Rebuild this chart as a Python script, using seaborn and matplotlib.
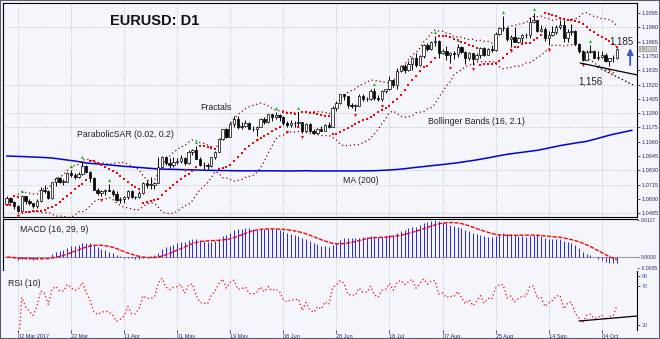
import numpy as np
import pandas as pd
import matplotlib
matplotlib.use("Agg")
import matplotlib.pyplot as plt
from matplotlib.patches import Rectangle
import seaborn as sns

# ---------------- data ----------------
open_prices = [
1.0560,1.0605,1.0575,1.0545,1.0505,1.0620,1.0585,1.0565,1.0545,1.0580,
1.0670,1.0660,1.0605,1.0735,1.0765,1.0740,1.0740,1.0810,1.0795,1.0780,
1.0800,1.0865,1.0815,1.0765,1.0675,1.0650,1.0665,1.0670,1.0665,1.0640,
1.0590,1.0600,1.0615,1.0665,1.0615,1.0615,1.0645,1.0730,1.0715,1.0715,
1.0725,1.0855,1.0935,1.0885,1.0870,1.0895,1.0905,1.0930,1.0885,1.0980,
1.0995,1.0925,1.0875,1.0870,1.0865,1.0935,1.0980,1.1080,1.1160,1.1100,
1.1205,1.1245,1.1180,1.1185,1.1210,1.1165,1.1160,1.1180,1.1245,1.1215,
1.1280,1.1255,1.1275,1.1260,1.1210,1.1195,1.1210,1.1210,1.1215,1.1150,
1.1200,1.1150,1.1130,1.1165,1.1150,1.1195,1.1180,1.1335,1.1375,1.1440,
1.1425,1.1355,1.1350,1.1350,1.1425,1.1400,1.1400,1.1465,1.1415,1.1400,
1.1470,1.1480,1.1555,1.1515,1.1630,1.1665,1.1640,1.1685,1.1730,1.1675,
1.1750,1.1840,1.1805,1.1860,1.1870,1.1775,1.1790,1.1755,1.1770,1.1765,
1.1820,1.1780,1.1735,1.1770,1.1725,1.1760,1.1815,1.1760,1.1805,1.1800,
1.1925,1.1975,1.1975,1.1885,1.1905,1.1860,1.1890,1.1915,1.1915,1.2025,
1.2035,1.1950,1.1965,1.1890,1.1920,1.1945,1.1985,1.1995,1.1890,1.1940,
1.1950,1.1845,1.1790,1.1720,1.1780,1.1790,1.1735,1.1745,1.1760,1.1710,
1.1730,1.1735]
high_prices = [
1.0620,1.0615,1.0580,1.0555,1.0630,1.0625,1.0600,1.0570,1.0600,1.0700,
1.0715,1.0675,1.0740,1.0775,1.0780,1.0760,1.0820,1.0830,1.0805,1.0820,
1.0905,1.0875,1.0825,1.0775,1.0690,1.0675,1.0680,1.0720,1.0680,1.0665,
1.0615,1.0625,1.0675,1.0675,1.0625,1.0660,1.0735,1.0750,1.0775,1.0740,
1.0935,1.0945,1.0945,1.0930,1.0935,1.0930,1.0950,1.0935,1.0990,1.1000,
1.1025,1.0935,1.0900,1.0890,1.0935,1.0985,1.1090,1.1165,1.1170,1.1215,
1.1265,1.1265,1.1220,1.1235,1.1220,1.1185,1.1190,1.1250,1.1255,1.1285,
1.1285,1.1295,1.1280,1.1265,1.1230,1.1235,1.1225,1.1295,1.1220,1.1210,
1.1210,1.1165,1.1170,1.1185,1.1200,1.1215,1.1350,1.1390,1.1445,1.1445,
1.1430,1.1370,1.1365,1.1440,1.1440,1.1420,1.1480,1.1490,1.1435,1.1475,
1.1485,1.1585,1.1560,1.1655,1.1680,1.1685,1.1710,1.1740,1.1775,1.1760,
1.1845,1.1850,1.1870,1.1910,1.1880,1.1805,1.1830,1.1780,1.1790,1.1845,
1.1830,1.1790,1.1780,1.1775,1.1775,1.1825,1.1825,1.1815,1.1835,1.1940,
1.1985,1.2070,1.1980,1.1915,1.1980,1.1905,1.1925,1.1935,1.2060,1.2092,
1.2040,1.1995,1.1980,1.1950,1.1990,1.1995,1.2035,1.2035,1.1965,1.2005,
1.1955,1.1850,1.1795,1.1800,1.1835,1.1800,1.1790,1.1790,1.1770,1.1730,
1.1760,1.1815]
low_prices = [
1.0555,1.0565,1.0520,1.0495,1.0500,1.0560,1.0550,1.0525,1.0525,1.0575,
1.0645,1.0600,1.0600,1.0705,1.0725,1.0715,1.0735,1.0780,1.0760,1.0765,
1.0790,1.0805,1.0740,1.0670,1.0630,1.0625,1.0630,1.0660,1.0625,1.0580,
1.0570,1.0570,1.0600,1.0605,1.0600,1.0605,1.0640,1.0690,1.0680,1.0680,
1.0725,1.0850,1.0870,1.0850,1.0860,1.0880,1.0890,1.0870,1.0880,1.0955,
1.0925,1.0865,1.0840,1.0840,1.0860,1.0925,1.0975,1.1075,1.1090,1.1100,
1.1180,1.1165,1.1165,1.1180,1.1160,1.1150,1.1110,1.1175,1.1200,1.1210,
1.1230,1.1245,1.1225,1.1195,1.1175,1.1180,1.1180,1.1190,1.1130,1.1135,
1.1140,1.1120,1.1120,1.1145,1.1145,1.1170,1.1175,1.1310,1.1365,1.1395,
1.1335,1.1330,1.1310,1.1345,1.1390,1.1385,1.1395,1.1395,1.1390,1.1385,
1.1450,1.1475,1.1500,1.1480,1.1620,1.1615,1.1630,1.1640,1.1660,1.1665,
1.1735,1.1790,1.1795,1.1830,1.1730,1.1765,1.1715,1.1690,1.1725,1.1745,
1.1775,1.1685,1.1720,1.1680,1.1715,1.1730,1.1750,1.1755,1.1785,1.1790,
1.1920,1.1950,1.1870,1.1825,1.1860,1.1850,1.1855,1.1895,1.1895,1.2015,
1.1945,1.1940,1.1870,1.1835,1.1910,1.1930,1.1965,1.1865,1.1860,1.1920,
1.1840,1.1770,1.1710,1.1715,1.1770,1.1730,1.1715,1.1730,1.1700,1.1670,
1.1705,1.1725]
close_prices = [
1.0605,1.0575,1.0545,1.0505,1.0620,1.0585,1.0565,1.0545,1.0580,1.0670,
1.0660,1.0605,1.0735,1.0765,1.0740,1.0740,1.0810,1.0795,1.0780,1.0800,
1.0865,1.0815,1.0765,1.0675,1.0650,1.0665,1.0670,1.0665,1.0640,1.0590,
1.0600,1.0615,1.0665,1.0615,1.0615,1.0645,1.0730,1.0715,1.0715,1.0725,
1.0855,1.0935,1.0885,1.0870,1.0895,1.0905,1.0930,1.0885,1.0980,1.0995,
1.0925,1.0875,1.0870,1.0865,1.0935,1.0980,1.1080,1.1160,1.1100,1.1205,
1.1245,1.1180,1.1185,1.1210,1.1165,1.1160,1.1180,1.1245,1.1215,1.1280,
1.1255,1.1275,1.1260,1.1210,1.1195,1.1210,1.1210,1.1215,1.1150,1.1200,
1.1150,1.1130,1.1165,1.1150,1.1195,1.1180,1.1335,1.1375,1.1440,1.1425,
1.1355,1.1350,1.1350,1.1425,1.1400,1.1400,1.1465,1.1415,1.1400,1.1470,
1.1480,1.1555,1.1515,1.1630,1.1665,1.1640,1.1685,1.1730,1.1675,1.1750,
1.1840,1.1805,1.1860,1.1870,1.1775,1.1790,1.1755,1.1770,1.1765,1.1820,
1.1780,1.1735,1.1770,1.1725,1.1760,1.1815,1.1760,1.1805,1.1800,1.1925,
1.1975,1.1975,1.1885,1.1905,1.1860,1.1890,1.1915,1.1915,1.2025,1.2035,
1.1950,1.1965,1.1890,1.1920,1.1945,1.1985,1.1995,1.1890,1.1940,1.1950,
1.1845,1.1790,1.1720,1.1780,1.1790,1.1735,1.1745,1.1760,1.1710,1.1730,
1.1735,1.1805]
ma200_values = [
1.0945,1.0944,1.0943,1.0942,1.0941,1.0940,1.0938,1.0937,1.0936,1.0934,
1.0933,1.0931,1.0929,1.0925,1.0921,1.0917,1.0913,1.0909,1.0905,1.0900,
1.0895,1.0889,1.0886,1.0884,1.0881,1.0879,1.0876,1.0874,1.0871,1.0868,
1.0865,1.0862,1.0860,1.0858,1.0855,1.0853,1.0851,1.0848,1.0846,1.0843,
1.0841,1.0840,1.0839,1.0839,1.0838,1.0837,1.0836,1.0835,1.0835,1.0834,
1.0833,1.0832,1.0831,1.0830,1.0830,1.0829,1.0829,1.0828,1.0828,1.0827,
1.0827,1.0826,1.0826,1.0826,1.0826,1.0826,1.0826,1.0826,1.0826,1.0826,
1.0826,1.0826,1.0825,1.0825,1.0825,1.0825,1.0825,1.0826,1.0826,1.0827,
1.0826,1.0825,1.0825,1.0825,1.0825,1.0825,1.0825,1.0825,1.0825,1.0825,
1.0825,1.0825,1.0825,1.0825,1.0826,1.0826,1.0826,1.0827,1.0828,1.0830,
1.0831,1.0833,1.0835,1.0837,1.0840,1.0843,1.0847,1.0850,1.0854,1.0857,
1.0860,1.0864,1.0867,1.0870,1.0873,1.0877,1.0880,1.0884,1.0887,1.0891,
1.0896,1.0900,1.0905,1.0909,1.0914,1.0919,1.0925,1.0930,1.0936,1.0942,
1.0948,1.0953,1.0959,1.0963,1.0967,1.0971,1.0975,1.0979,1.0983,1.0987,
1.0991,1.0997,1.1003,1.1010,1.1016,1.1022,1.1029,1.1034,1.1039,1.1044,
1.1049,1.1054,1.1058,1.1063,1.1071,1.1079,1.1087,1.1096,1.1104,1.1112,
1.1120,1.1126,1.1133,1.1139,1.1146,1.1152]

date_tick_bars = [3, 17, 31, 45, 59, 73, 87, 101, 115, 129, 143, 157]
date_tick_labels = ["02 Mar 2017", "22 Mar", "11 Apr", "01 May", "19 May", "08 Jun",
                    "28 Jun", "18 Jul", "07 Aug", "25 Aug", "14 Sep", "04 Oct"]
price_ticks = [1.2095, 1.1980, 1.1865, 1.1750, 1.1635, 1.1520, 1.1405, 1.1290,
               1.1175, 1.1060, 1.0945, 1.0830, 1.0715, 1.0600, 1.0485]
price_grid = [1.1980, 1.1520, 1.1290, 1.1175, 1.0830, 1.0715, 1.0485]
rsi_ticks = [30, 70, 80]

# annotation geometry (drawn objects on the chart)
support_line = ([151.3, 166.3], [1.1693, 1.1597])
support_dotted = ([155.8, 165.3], [1.1661, 1.1516])
rsi_support = ([151.0, 166.3], [34.2, 39.3])
arrow_bar, arrow_from, arrow_to = 164.5, 1.1653, 1.1835

n = len(close_prices)
for nm, arr in [("open", open_prices), ("high", high_prices), ("low", low_prices)]:
    assert len(arr) == n, (nm, len(arr), n)

o = np.array(open_prices); h = np.array(high_prices)
l = np.array(low_prices); c = np.array(close_prices)
x = np.arange(n)
s = pd.Series(c)

# indicators
mid = s.rolling(16, min_periods=4).mean()
sd = s.rolling(16, min_periods=4).std(ddof=0)
bb_up = mid + 2.1 * sd
bb_lo = mid - 2.1 * sd

def psar(hi, lo, step=0.02, amax=0.2):
    out = np.zeros(len(hi)); up = True; ep = hi[0]; af = step; out[0] = lo[0]
    for i in range(1, len(hi)):
        v = out[i-1] + af * (ep - out[i-1])
        if up:
            v = min(v, lo[i-1], lo[max(i-2, 0)])
            if lo[i] < v:
                up = False; v = ep; ep = lo[i]; af = step
            elif hi[i] > ep:
                ep = hi[i]; af = min(af + step, amax)
        else:
            v = max(v, hi[i-1], hi[max(i-2, 0)])
            if hi[i] > v:
                up = True; v = ep; ep = hi[i]; af = step
            elif lo[i] < ep:
                ep = lo[i]; af = min(af + step, amax)
        out[i] = v
    return out

sar = psar(h, l)
frac_up = [i for i in range(2, n-2) if h[i] > max(h[i-2], h[i-1], h[i+1], h[i+2])]
frac_dn = [i for i in range(2, n-2) if l[i] < min(l[i-2], l[i-1], l[i+1], l[i+2])]

ema_f = s.ewm(span=16, adjust=False).mean()
ema_s = s.ewm(span=29, adjust=False).mean()
macd = (ema_f - ema_s).values
signal = pd.Series(macd).rolling(9, min_periods=1).mean().values

d = s.diff()
ag = d.clip(lower=0).ewm(alpha=0.1, adjust=True, min_periods=3).mean()
al = (-d.clip(upper=0)).ewm(alpha=0.1, adjust=True, min_periods=3).mean()
rsi = (100 - 100 / (1 + ag / al)).values

# ---------------- figure ----------------
sns.set_theme(style="white")
plt.rcParams["font.family"] = ["Liberation Sans", "DejaVu Sans"]
BG = "#F5F6FC"
W, H = 660, 339
fig = plt.figure(figsize=(6.6, 3.39), dpi=100)
fig.patch.set_facecolor(BG)

def rect(x0, y0, x1, y1):
    return [x0 / W, 1 - y1 / H, (x1 - x0) / W, (y1 - y0) / H]

ax = fig.add_axes(rect(3, 3, 637, 217))
axm = fig.add_axes(rect(3, 219, 637, 270), sharex=ax)
axr = fig.add_axes(rect(3, 271, 637, 330), sharex=ax)
for a in (ax, axm, axr):
    a.set_facecolor(BG)
    for xb in date_tick_bars:
        a.axvline(xb, color="#B8B8C0", lw=0.6, ls=(0, (1, 1.5)), zorder=0)

ax.set_xlim(-0.95, 166.3)
ax.set_ylim(1.04548, 1.21754)
for g in price_grid:
    ax.axhline(g, color="#B8B8C0", lw=0.6, ls=(0, (1, 1.5)), zorder=0)

# MA(200)
sns.lineplot(x=np.arange(len(ma200_values)), y=ma200_values, ax=ax, color="#0000E0",
             lw=1.1, zorder=2)
# Bollinger
ax.plot(x, bb_up, color="#8B0000", lw=0.9, ls=(0, (1, 2.2)), zorder=2)
ax.plot(x, bb_lo, color="#8B0000", lw=0.9, ls=(0, (1, 2.2)), zorder=2)
# candles
ax.vlines(x, l, h, color="black", lw=0.7, zorder=3)
body_b = np.minimum(o, c)
body_h = np.maximum(np.abs(c - o), 0.0002)
ax.bar(x, body_h, bottom=body_b, width=0.62,
       color=np.where(c >= o, "white", "black"), edgecolor="black", linewidth=0.5, zorder=4)
# Parabolic SAR
sns.scatterplot(x=x, y=sar, ax=ax, marker="s", s=2.0, color="#FF0000", linewidth=0, zorder=5)
# Fractals
sns.scatterplot(x=frac_up, y=h[frac_up] + 0.0035, ax=ax, marker="^", s=5,
                color="#00D000", linewidth=0, zorder=5)
sns.scatterplot(x=frac_dn, y=l[frac_dn] - 0.0035, ax=ax, marker="v", s=5,
                color="#FF0000", linewidth=0, zorder=5)
# trend lines & arrow
ax.plot(*support_line, color="black", lw=0.9, zorder=5)
ax.plot(*support_dotted, color="black", lw=0.8, ls=(0, (1.5, 2)), zorder=5)
ax.annotate("", xy=(arrow_bar, arrow_to), xytext=(arrow_bar, arrow_from),
            arrowprops=dict(arrowstyle="-|>", color="#3C5AD0", lw=1.3, mutation_scale=9),
            zorder=6)

ax.set_yticks(price_ticks)
ax.set_yticklabels([f"{v:.4f}" for v in price_ticks])
ax.yaxis.tick_right()
ax.tick_params(axis="y", right=True, left=False, length=2, width=0.6, labelsize=4,
               labelcolor="#2A2A6A", pad=1.5, colors="#2A2A6A")
ax.tick_params(axis="x", bottom=False, labelbottom=False)
ax.text(1.004, c[-1], f"{c[-1]:.4f}", transform=ax.get_yaxis_transform(), fontsize=4,
        color="white", va="center", ha="left",
        bbox=dict(facecolor="#A8A8A8", edgecolor="none", pad=0.6))
for sp in ax.spines.values():
    sp.set_color("black"); sp.set_linewidth(0.8)

# MACD panel
mtop = max(np.nanmax(macd), np.nanmax(signal))
scale = mtop / 37.0
axm.set_ylim(-13 * scale, mtop + 1 * scale)
axm.axhline(0, color="#A0A0A0", lw=0.8, zorder=1)
axm.vlines(x, 0, macd, color="#0000FF", lw=0.6, zorder=2)
sns.lineplot(x=x, y=signal, ax=axm, color="#FF0000", lw=1.0, zorder=3)
axm.lines[-1].set_linestyle((0, (3, 1)))
mt = [-11 * scale, 0.0, mtop]
axm.set_yticks(mt)
axm.set_yticklabels([f"{v:.4f}" for v in mt])
axm.yaxis.tick_right()
axm.tick_params(axis="y", right=True, left=False, length=1.5, width=0.6, labelsize=3.6,
                labelcolor="#2A2A6A", pad=1.0, colors="#2A2A6A")
axm.tick_params(axis="x", bottom=False, labelbottom=False)
for k, sp in axm.spines.items():
    sp.set_visible(k in ("top", "left"))
    sp.set_color("black"); sp.set_linewidth(0.8)

# RSI panel
axr.set_ylim(25.0, 85.4)
axr.plot(x, rsi, color="#FF0000", lw=0.9, ls=(0, (1, 2)), zorder=3)
axr.plot(*rsi_support, color="black", lw=0.9, zorder=4)
axr.set_yticks(rsi_ticks)
axr.set_yticklabels([str(v) for v in rsi_ticks])
axr.yaxis.tick_right()
axr.tick_params(axis="y", right=True, left=False, length=2, width=0.6, labelsize=4,
                labelcolor="#3A6AC0", pad=1.5, colors="#2A2A6A")
axr.set_xticks(date_tick_bars)
axr.set_xticklabels(date_tick_labels)
axr.tick_params(axis="x", bottom=True, length=2, width=0.6, labelsize=4,
                labelcolor="#2A2A6A", pad=0.8, colors="#2A2A6A")
for lbl in axr.get_xticklabels():
    lbl.set_ha("left")
for k, sp in axr.spines.items():
    sp.set_visible(k == "right")
    sp.set_color("black"); sp.set_linewidth(0.8)
ax.set_xlim(-0.95, 166.3)

# texts
def ftext(px, py, t, **kw):
    fig.text(px / W, 1 - py / H, t, va="center", ha="left", **kw)

ftext(5, 6, "EURUSD,D1", fontsize=4.5, color="white")
ftext(110, 21, "EURUSD: D1", fontsize=10.5, fontweight="bold", color="#111111")
ftext(200, 107, "Fractals", fontsize=6.3, color="#222222")
ftext(77, 135, "ParabolicSAR (0.02, 0.2)", fontsize=6.3, color="#222222")
ftext(428, 122, "Bollinger Bands (16, 2.1)", fontsize=6.3, color="#222222")
ftext(343, 180, "MA (200)", fontsize=6.3, color="#222222")
ftext(609, 42, "1,185", fontsize=7, color="#222222")
ftext(578, 81, "1,156", fontsize=7, color="#222222")
ftext(20, 230, "MACD (16, 29, 9)", fontsize=6.3, color="#222222")
ftext(8, 283, "RSI (10)", fontsize=6.3, color="#222222")

fig.patches.append(Rectangle((0, 0), 1, 1, transform=fig.transFigure, fill=False,
                             edgecolor="#5A5A70", lw=1.5))
fig.savefig("out.png", dpi=100, facecolor=BG)
